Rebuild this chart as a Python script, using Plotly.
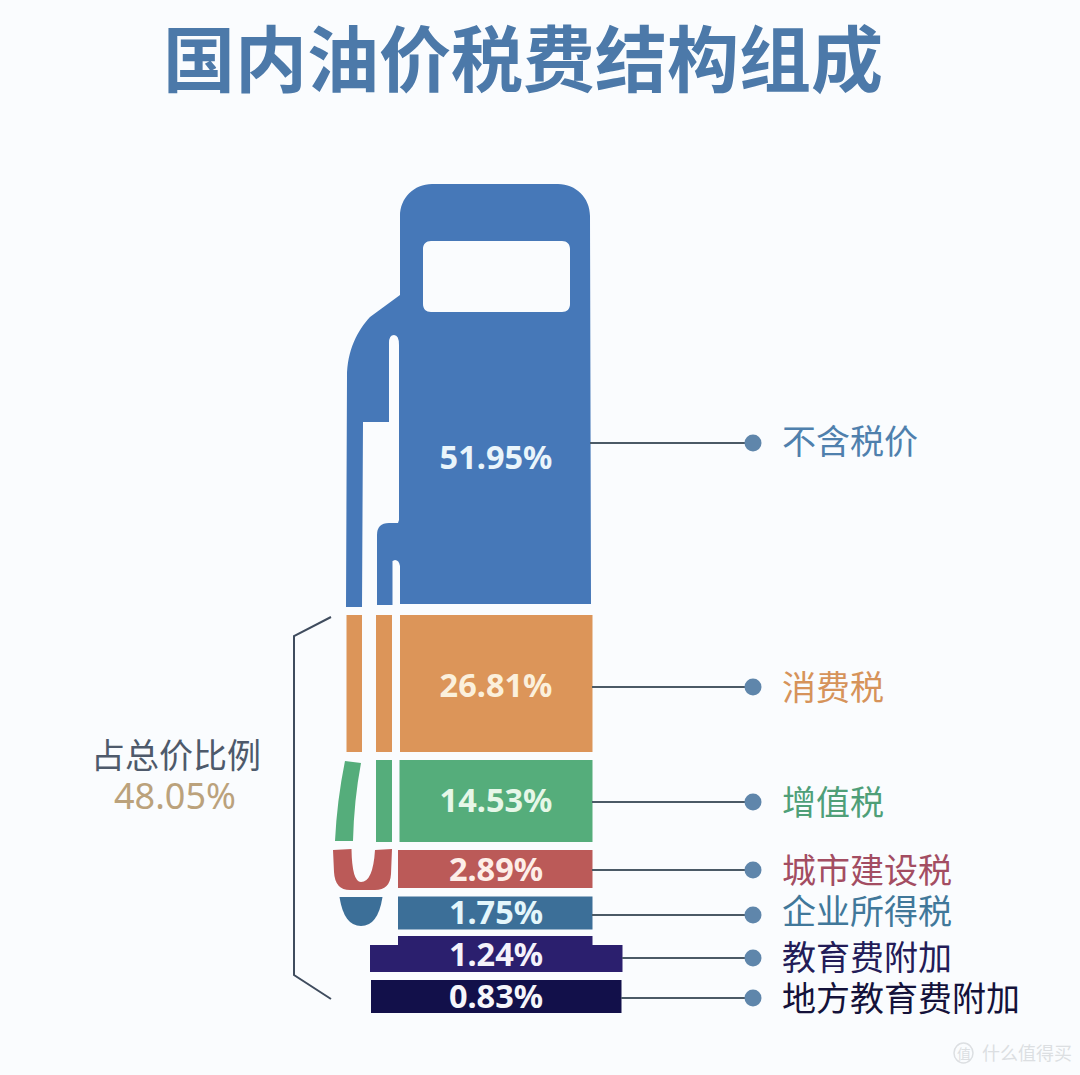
import plotly.graph_objects as go

# Tax structure of the domestic pump price
chart_title = "国内油价税费结构组成"
item_names = ["不含税价", "消费税", "增值税", "城市建设税", "企业所得税", "教育费附加", "地方教育费附加"]
item_shares = [51.95, 26.81, 14.53, 2.89, 1.75, 1.24, 0.83]
tax_total_label = "占总价比例"
tax_total_share = 48.05

item_colors = ["#4678b8", "#dc9559", "#55ad7b", "#bb5a58", "#3c6f98", "#2b1f6e", "#12104a"]
name_colors = ["#4f80ad", "#d6935a", "#4f9f78", "#a34d62", "#41789a", "#231c58", "#14123a"]
value_colors = ["#eaf5fb", "#fbf0dc", "#e6f7e8", "#fdeee8", "#e4f6fb", "#f4f2fb", "#f6f6fb"]

BG = "#fafcfe"
LINE = "#4b5a66"
DOT = "#5f86ab"

# Pictogram layout: tiers are illustrative bands, not drawn to scale with the shares.
tier_rows = [
    # colour index, left, right, top, bottom
    (1, 400, 592.5, 615, 752), (1, 346.5, 362, 615, 752), (1, 376, 392, 615, 752),
    (2, 399.5, 592.5, 760, 842), (2, 376, 392, 760, 842),
    (3, 398, 592.5, 850, 888),
    (4, 398, 592.5, 896.5, 929.5),
    (5, 398, 592.5, 936, 950), (5, 370, 622.5, 945, 972),
    (6, 371, 621.5, 980, 1013),
]
value_y = [461, 689, 804, 873, 916, 958, 1000]
leader_y = [443, 687, 802, 870, 915, 958, 998]
leader_x0 = [590, 592, 592, 592, 592, 622, 621]
name_y = [445, 691, 806, 874, 915, 961, 1002]

fig = go.Figure()

# Rectangular tiers of the pump
for idx in range(1, 7):
    rows = [r for r in tier_rows if r[0] == idx]
    fig.add_trace(go.Bar(
        orientation="h",
        y=[(r[3] + r[4]) / 2 for r in rows],
        width=[r[4] - r[3] for r in rows],
        base=[r[1] for r in rows],
        x=[r[2] - r[1] for r in rows],
        marker=dict(color=item_colors[idx], line_width=0),
        name=item_names[idx],
        showlegend=False,
        hoverinfo="skip",
    ))

# Leader lines with end dots
for y, x0 in zip(leader_y, leader_x0):
    fig.add_trace(go.Scatter(
        x=[x0, 753], y=[y, y], mode="lines+markers",
        line=dict(color=LINE, width=2),
        marker=dict(size=[0, 17], color=DOT, opacity=1, line_width=0),
        showlegend=False, hoverinfo="skip",
    ))

# Share values on the tiers
fig.add_trace(go.Scatter(
    x=[496] * len(item_shares), y=value_y, mode="text",
    text=[f"{v:.2f}%" for v in item_shares],
    textfont=dict(family="Noto Sans", size=32.5, color=value_colors, weight=700),
    showlegend=False, hoverinfo="skip",
))

# Item names beside the dots
fig.add_trace(go.Scatter(
    x=[782] * len(item_names), y=name_y, mode="text",
    text=item_names, textposition="middle right",
    textfont=dict(family="Noto Sans CJK SC", size=34, color=name_colors),
    showlegend=False, hoverinfo="skip",
))

blue_outline = (
    "M400,216 C400,198 414,184 432,184 L558,184 C576,184 590,198 590,216 L591,604 L400,604 L400,566 "
    "Q399,560 395,560 L392.5,561 L392.5,605 L377,605 L377,535 Q377,523 389,523 L398,523 "
    "L399,520 L399,345 Q399,335 394,335 Q389,335 389,343 L389,422 L363,422 L362,607 "
    "L346,607 L347,377 C347,350 358,330 370,317 L400,295 Z "
    "M431,241 L562,241 C567,241 570,244 570,249 L570,304 C570,309 567,312 562,312 L431,312 "
    "C426,312 423,309 423,304 L423,249 C423,244 426,241 431,241 Z"
)
hose_green = "M345,761 L361,763 Q354,800 353,841 L335,841 Q337,800 345,761 Z"
hose_red = (
    "M333,850 L351.5,849 Q352,882 361,882 Q373,882 375,850 L392,849 L391,874 "
    "Q390,890 375,890 L350,890 Q335,890 334,872 Z"
)
nozzle_tip = "M339.5,897 L382.5,897 Q378,926 361,926 Q344,926 339.5,897 Z"

shapes = [
    dict(type="path", path=blue_outline, fillcolor=item_colors[0], line_width=0, layer="below"),
    dict(type="path", path=hose_green, fillcolor=item_colors[2], line_width=0, layer="below"),
    dict(type="path", path=hose_red, fillcolor=item_colors[3], line_width=0, layer="below"),
    dict(type="path", path=nozzle_tip, fillcolor=item_colors[4], line_width=0, layer="below"),
    dict(type="path", path="M331,617 L294,636 L294,975 L331,999",
         line=dict(color="#3f4c5e", width=2), layer="below"),
    # Small round site mark
    dict(type="circle", x0=954, x1=973, y0=1043, y1=1063,
         line=dict(color="#dcdfe2", width=1.5), layer="below"),
]

annotations = [
    dict(x=523, y=54, text=f"<b>{chart_title}</b>", showarrow=False,
         font=dict(family="Noto Sans CJK SC", size=72, color="#4c79a9")),
    dict(x=176, y=753, text=tax_total_label, showarrow=False,
         font=dict(family="Noto Sans CJK SC", size=34, color="#4e5a6b")),
    dict(x=175, y=795, text=f"{tax_total_share:.2f}%", showarrow=False,
         font=dict(family="Noto Sans", size=36, color="#bba27c")),
    dict(x=963.5, y=1053, text="值", showarrow=False,
         font=dict(family="Noto Sans CJK SC", size=14, color="#dcdfe2")),
    dict(x=1027, y=1052, text="什么值得买", showarrow=False,
         font=dict(family="Noto Sans CJK SC", size=18, color="#dcdfe2")),
]

fig.update_layout(
    width=1080, height=1075,
    margin=dict(l=0, r=0, t=0, b=0),
    paper_bgcolor=BG, plot_bgcolor=BG,
    barmode="overlay",
    xaxis=dict(range=[0, 1080], visible=False, fixedrange=True),
    yaxis=dict(range=[1075, 0], visible=False, fixedrange=True),
    shapes=shapes, annotations=annotations,
    showlegend=False,
)

fig.write_html("out.html", config={"displayModeBar": False})
